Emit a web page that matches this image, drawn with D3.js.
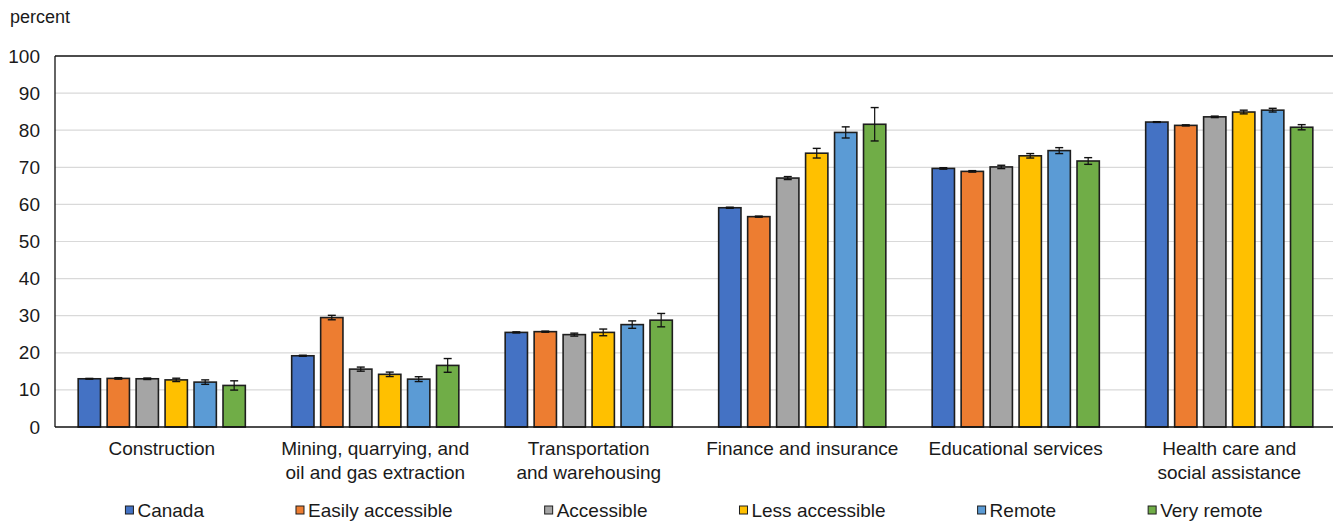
<!DOCTYPE html>
<html>
<head>
<meta charset="utf-8">
<script src="https://cdn.jsdelivr.net/npm/d3@7"></script>
<style>
  body { margin: 0; background: #fff; }
  text { font-family: "Liberation Sans", Arial, sans-serif; fill: #1a1a1a; }
</style>
</head>
<body>
<svg id="chart" width="1333" height="523"></svg>
<script>
// Industry groups (line breaks marked with \n)
const categories = [
  "Construction",
  "Mining, quarrying, and\noil and gas extraction",
  "Transportation\nand warehousing",
  "Finance and insurance",
  "Educational services",
  "Health care and\nsocial assistance"
];

const seriesNames = ["Canada", "Easily accessible", "Accessible", "Less accessible", "Remote", "Very remote"];

// Share of workers (percent), one array per remoteness class
const canada           = [13.0, 19.2, 25.5, 59.1, 69.7, 82.2];
const easilyAccessible = [13.1, 29.5, 25.7, 56.7, 68.9, 81.3];
const accessible       = [13.0, 15.6, 24.9, 67.1, 70.1, 83.6];
const lessAccessible   = [12.7, 14.2, 25.5, 73.8, 73.1, 84.9];
const remote           = [12.1, 12.9, 27.6, 79.4, 74.5, 85.4];
const veryRemote       = [11.2, 16.6, 28.8, 81.6, 71.7, 80.8];

// Half-width of the confidence interval (percentage points)
const canadaErr           = [0.1, 0.15, 0.15, 0.15, 0.2, 0.1];
const easilyAccessibleErr = [0.2, 0.6, 0.15, 0.15, 0.2, 0.15];
const accessibleErr       = [0.2, 0.55, 0.4, 0.4, 0.45, 0.2];
const lessAccessibleErr   = [0.45, 0.6, 0.9, 1.3, 0.6, 0.5];
const remoteErr           = [0.6, 0.65, 1.0, 1.5, 0.8, 0.5];
const veryRemoteErr       = [1.25, 1.85, 1.8, 4.5, 0.9, 0.7];

const yTicks = [0, 10, 20, 30, 40, 50, 60, 70, 80, 90, 100];
const yLabel = "percent";

const seriesValues = [canada, easilyAccessible, accessible, lessAccessible, remote, veryRemote];
const seriesErrors = [canadaErr, easilyAccessibleErr, accessibleErr, lessAccessibleErr, remoteErr, veryRemoteErr];
const palette = ["#4472c4", "#ed7d31", "#a5a5a5", "#ffc000", "#5b9bd5", "#70ad47"];

const svg = d3.select("#chart");
const plot = { left: 55, right: 1336, top: 56, bottom: 427 };
const fontSize = 19;

const y = d3.scaleLinear().domain([0, 100]).range([plot.bottom, plot.top]);
const x0 = d3.scaleBand().domain(categories).range([plot.left, plot.right]).paddingInner(0).paddingOuter(0);
const x1 = d3.scaleBand().domain(seriesNames).range([0, x0.bandwidth()]).paddingInner(0.23).paddingOuter(0.8);
const color = d3.scaleOrdinal().domain(seriesNames).range(palette);

// Horizontal gridlines
svg.append("g").selectAll("line")
  .data(yTicks.filter(t => t > 0 && t < 100))
  .join("line")
  .attr("x1", plot.left).attr("x2", plot.right)
  .attr("y1", d => y(d)).attr("y2", d => y(d))
  .attr("stroke", "#d9d9d9").attr("stroke-width", 1.2);

// Y axis tick labels
const yAxis = d3.axisLeft(y).tickValues(yTicks).tickSize(0).tickPadding(15);
const gy = svg.append("g").attr("transform", `translate(${plot.left},0)`).call(yAxis);
gy.select(".domain").remove();
gy.selectAll("text").attr("font-size", fontSize).attr("fill", "#1a1a1a")
  .style("font-family", '"Liberation Sans", Arial, sans-serif');

svg.append("text").attr("x", 10).attr("y", 23).attr("font-size", 18).text(yLabel);

// Bars
const rows = categories.map((c, i) => ({
  cat: c,
  items: seriesNames.map((s, j) => ({ s, v: seriesValues[j][i], e: seriesErrors[j][i] }))
}));

const groups = svg.append("g").selectAll("g")
  .data(rows).join("g")
  .attr("transform", d => `translate(${x0(d.cat)},0)`);

groups.selectAll("rect")
  .data(d => d.items).join("rect")
  .attr("x", d => x1(d.s))
  .attr("width", x1.bandwidth())
  .attr("y", d => y(d.v))
  .attr("height", d => y(0) - y(d.v))
  .attr("fill", d => color(d.s))
  .attr("stroke", "#1e1e1e").attr("stroke-width", 1.6);

// Error bars
const capW = 4;
const eb = groups.selectAll("g.err").data(d => d.items).join("g").attr("class", "err")
  .attr("transform", d => `translate(${x1(d.s) + x1.bandwidth() / 2},0)`);
eb.append("line").attr("x1", 0).attr("x2", 0)
  .attr("y1", d => y(d.v + d.e)).attr("y2", d => y(d.v - d.e))
  .attr("stroke", "#111").attr("stroke-width", 1.2);
eb.append("line").attr("x1", -capW).attr("x2", capW)
  .attr("y1", d => y(d.v + d.e)).attr("y2", d => y(d.v + d.e))
  .attr("stroke", "#111").attr("stroke-width", 1.4);
eb.append("line").attr("x1", -capW).attr("x2", capW)
  .attr("y1", d => y(d.v - d.e)).attr("y2", d => y(d.v - d.e))
  .attr("stroke", "#111").attr("stroke-width", 1.4);

// Plot frame: left, top and bottom lines
svg.append("line").attr("x1", plot.left).attr("x2", plot.left).attr("y1", plot.top).attr("y2", plot.bottom)
  .attr("stroke", "#111").attr("stroke-width", 1.3);
svg.append("line").attr("x1", plot.left).attr("x2", plot.right).attr("y1", plot.top).attr("y2", plot.top)
  .attr("stroke", "#111").attr("stroke-width", 1.3);
svg.append("line").attr("x1", plot.left).attr("x2", plot.right).attr("y1", plot.bottom).attr("y2", plot.bottom)
  .attr("stroke", "#111").attr("stroke-width", 1.3);

// Category labels
const catLabels = svg.append("g").selectAll("text")
  .data(categories).join("text")
  .attr("text-anchor", "middle")
  .attr("font-size", fontSize)
  .attr("x", d => x0(d) + x0.bandwidth() / 2)
  .attr("y", 455);
catLabels.selectAll("tspan")
  .data(d => d.split("\n")).join("tspan")
  .attr("x", function () { return d3.select(this.parentNode).attr("x"); })
  .attr("dy", (d, i) => i === 0 ? 0 : 24)
  .text(d => d);

// Legend: one row, entries separated by a fixed gap, centred under the plot
const markerSize = 8, markerGap = 4, entryGap = 92;
const lg = svg.append("g").selectAll("g")
  .data(seriesNames).join("g");
lg.append("rect").attr("x", 0).attr("y", -4).attr("width", markerSize).attr("height", markerSize)
  .attr("fill", d => color(d)).attr("stroke", "#1e1e1e").attr("stroke-width", 1);
lg.append("text").attr("x", markerSize + markerGap).attr("y", 6.5).attr("font-size", fontSize).text(d => d);

const widths = [];
lg.each(function () { widths.push(markerSize + markerGap + d3.select(this).select("text").node().getComputedTextLength()); });
const total = d3.sum(widths) + entryGap * (widths.length - 1);
let cursor = (plot.left + 1333) / 2 - total / 2;
lg.attr("transform", (d, i) => {
  const x = cursor;
  cursor += widths[i] + entryGap;
  return `translate(${x},510)`;
});
</script>
</body>
</html>
